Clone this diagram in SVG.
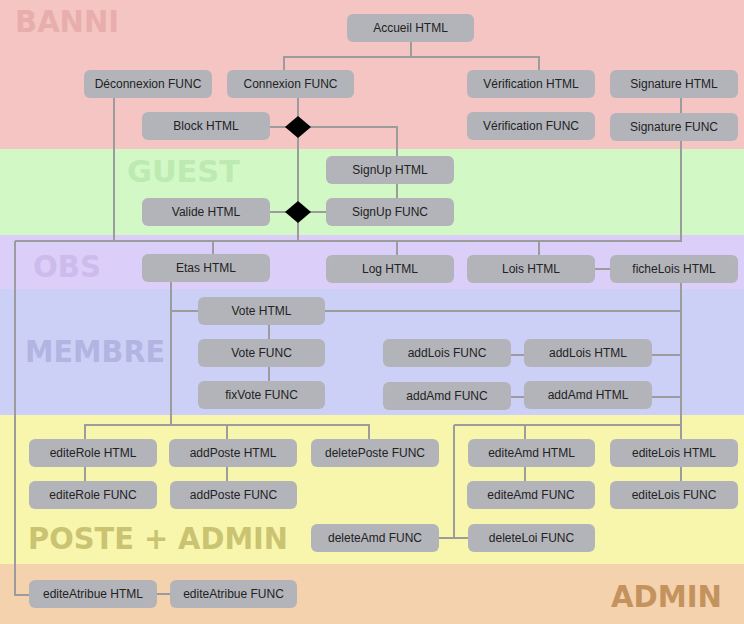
<svg xmlns="http://www.w3.org/2000/svg" width="744" height="624" viewBox="0 0 744 624">
<style>
.band-label{font-family:"DejaVu Sans","Liberation Sans",Arial,sans-serif;font-weight:bold;font-size:30px}
.node rect{fill:#b3b4ba}
.node text{font-family:"Liberation Sans",Arial,sans-serif;font-size:12px;fill:#222;text-anchor:middle}
.conn{fill:none;stroke:#9c9c9c;stroke-width:2}
.dia{fill:#000}
</style>
<g id="bands">
<rect x="0" y="0" width="744" height="149" fill="#f4c5c3"/>
<rect x="0" y="149" width="744" height="86" fill="#d2f8c6"/>
<rect x="0" y="235" width="744" height="54" fill="#dbcef8"/>
<rect x="0" y="289" width="744" height="126" fill="#cdd0f6"/>
<rect x="0" y="415" width="744" height="149" fill="#f8f6ac"/>
<rect x="0" y="564" width="744" height="60" fill="#f4d2ad"/>
<text class="band-label" x="15" y="32" fill="#e8aeae" textLength="104" lengthAdjust="spacingAndGlyphs">BANNI</text>
<text class="band-label" x="127" y="182" fill="#bdeab1" textLength="113" lengthAdjust="spacingAndGlyphs">GUEST</text>
<text class="band-label" x="33" y="277" fill="#cdbbee" textLength="68" lengthAdjust="spacingAndGlyphs">OBS</text>
<text class="band-label" x="25" y="362" fill="#b2b4e2" textLength="140" lengthAdjust="spacingAndGlyphs">MEMBRE</text>
<text class="band-label" x="28" y="549" fill="#c9c372" textLength="260" lengthAdjust="spacingAndGlyphs">POSTE + ADMIN</text>
<text class="band-label" x="611" y="607" fill="#c4935d" textLength="111" lengthAdjust="spacingAndGlyphs">ADMIN</text>
</g>
<g id="connectors" class="conn">
<path d="M411 42V57M284 70V57H539V70"/>
<path d="M298 98V241"/>
<path d="M270 127H397V156M397 184V198"/>
<path d="M270 212H326"/>
<path d="M114 98V241"/>
<path d="M15 241H681V141M681 98V113"/>
<path d="M15 241V595H29"/>
<path d="M213 241V254M397 241V255M539 241V255"/>
<path d="M595 269H610"/>
<path d="M681 283V439M681 467V481"/>
<path d="M325 311H681M171 282V425M171 311H198"/>
<path d="M269 325V339M269 367V381"/>
<path d="M511 355H524M652 355H681M511 397H524M652 397H681"/>
<path d="M85 439V425H369V439M227 425V439M85 467V481M227 467V481"/>
<path d="M454 425H681M525 425V439M525 467V481M454 425V538M439 538H468"/>
<path d="M157 594H170"/>
</g>
<g id="decisions">
<polygon class="dia" points="298,116 311,127 298,138 285,127"/>
<polygon class="dia" points="298,201 311,212 298,223 285,212"/>
</g>
<g id="n-accueil-html" class="node"><rect x="347" y="14" width="127" height="28" rx="6"/><text x="410.5" y="32">Accueil HTML</text></g>
<g id="n-deconnexion-func" class="node"><rect x="84" y="70" width="128" height="28" rx="6"/><text x="148" y="88">Déconnexion FUNC</text></g>
<g id="n-connexion-func" class="node"><rect x="227" y="70" width="127" height="28" rx="6"/><text x="290.5" y="88">Connexion FUNC</text></g>
<g id="n-verification-html" class="node"><rect x="467" y="70" width="128" height="28" rx="6"/><text x="531" y="88">Vérification HTML</text></g>
<g id="n-signature-html" class="node"><rect x="610" y="70" width="128" height="28" rx="6"/><text x="674" y="88">Signature HTML</text></g>
<g id="n-block-html" class="node"><rect x="142" y="112" width="128" height="28" rx="6"/><text x="206" y="130">Block HTML</text></g>
<g id="n-verification-func" class="node"><rect x="467" y="112" width="128" height="28" rx="6"/><text x="531" y="130">Vérification FUNC</text></g>
<g id="n-signature-func" class="node"><rect x="610" y="113" width="128" height="28" rx="6"/><text x="674" y="131">Signature FUNC</text></g>
<g id="n-signup-html" class="node"><rect x="326" y="156" width="128" height="28" rx="6"/><text x="390" y="174">SignUp HTML</text></g>
<g id="n-signup-func" class="node"><rect x="326" y="198" width="128" height="28" rx="6"/><text x="390" y="216">SignUp FUNC</text></g>
<g id="n-valide-html" class="node"><rect x="142" y="198" width="128" height="28" rx="6"/><text x="206" y="216">Valide HTML</text></g>
<g id="n-etas-html" class="node"><rect x="142" y="254" width="128" height="28" rx="6"/><text x="206" y="272">Etas HTML</text></g>
<g id="n-log-html" class="node"><rect x="326" y="255" width="128" height="28" rx="6"/><text x="390" y="273">Log HTML</text></g>
<g id="n-lois-html" class="node"><rect x="467" y="255" width="128" height="28" rx="6"/><text x="531" y="273">Lois HTML</text></g>
<g id="n-fichelois-html" class="node"><rect x="610" y="255" width="128" height="28" rx="6"/><text x="674" y="273">ficheLois HTML</text></g>
<g id="n-vote-html" class="node"><rect x="198" y="297" width="127" height="28" rx="6"/><text x="261.5" y="315">Vote HTML</text></g>
<g id="n-vote-func" class="node"><rect x="198" y="339" width="127" height="28" rx="6"/><text x="261.5" y="357">Vote FUNC</text></g>
<g id="n-fixvote-func" class="node"><rect x="198" y="381" width="127" height="28" rx="6"/><text x="261.5" y="399">fixVote FUNC</text></g>
<g id="n-addlois-func" class="node"><rect x="383" y="339" width="128" height="28" rx="6"/><text x="447" y="357">addLois FUNC</text></g>
<g id="n-addlois-html" class="node"><rect x="524" y="339" width="128" height="28" rx="6"/><text x="588" y="357">addLois HTML</text></g>
<g id="n-addamd-func" class="node"><rect x="383" y="382" width="128" height="28" rx="6"/><text x="447" y="400">addAmd FUNC</text></g>
<g id="n-addamd-html" class="node"><rect x="524" y="381" width="128" height="28" rx="6"/><text x="588" y="399">addAmd HTML</text></g>
<g id="n-editerole-html" class="node"><rect x="29" y="439" width="128" height="28" rx="6"/><text x="93" y="457">editeRole HTML</text></g>
<g id="n-editerole-func" class="node"><rect x="29" y="481" width="128" height="28" rx="6"/><text x="93" y="499">editeRole FUNC</text></g>
<g id="n-addposte-html" class="node"><rect x="169" y="439" width="128" height="28" rx="6"/><text x="233" y="457">addPoste HTML</text></g>
<g id="n-addposte-func" class="node"><rect x="170" y="481" width="127" height="28" rx="6"/><text x="233.5" y="499">addPoste FUNC</text></g>
<g id="n-deleteposte-func" class="node"><rect x="311" y="439" width="128" height="28" rx="6"/><text x="375" y="457">deletePoste FUNC</text></g>
<g id="n-editeamd-html" class="node"><rect x="468" y="439" width="127" height="28" rx="6"/><text x="531.5" y="457">editeAmd HTML</text></g>
<g id="n-editeamd-func" class="node"><rect x="467" y="481" width="128" height="28" rx="6"/><text x="531" y="499">editeAmd FUNC</text></g>
<g id="n-editelois-html" class="node"><rect x="610" y="439" width="128" height="28" rx="6"/><text x="674" y="457">editeLois HTML</text></g>
<g id="n-editelois-func" class="node"><rect x="610" y="481" width="128" height="28" rx="6"/><text x="674" y="499">editeLois FUNC</text></g>
<g id="n-deleteamd-func" class="node"><rect x="311" y="524" width="128" height="28" rx="6"/><text x="375" y="542">deleteAmd FUNC</text></g>
<g id="n-deleteloi-func" class="node"><rect x="468" y="524" width="127" height="28" rx="6"/><text x="531.5" y="542">deleteLoi FUNC</text></g>
<g id="n-editeatribue-html" class="node"><rect x="29" y="580" width="128" height="28" rx="6"/><text x="93" y="598">editeAtribue HTML</text></g>
<g id="n-editeatribue-func" class="node"><rect x="170" y="580" width="127" height="28" rx="6"/><text x="233.5" y="598">editeAtribue FUNC</text></g>
</svg>
